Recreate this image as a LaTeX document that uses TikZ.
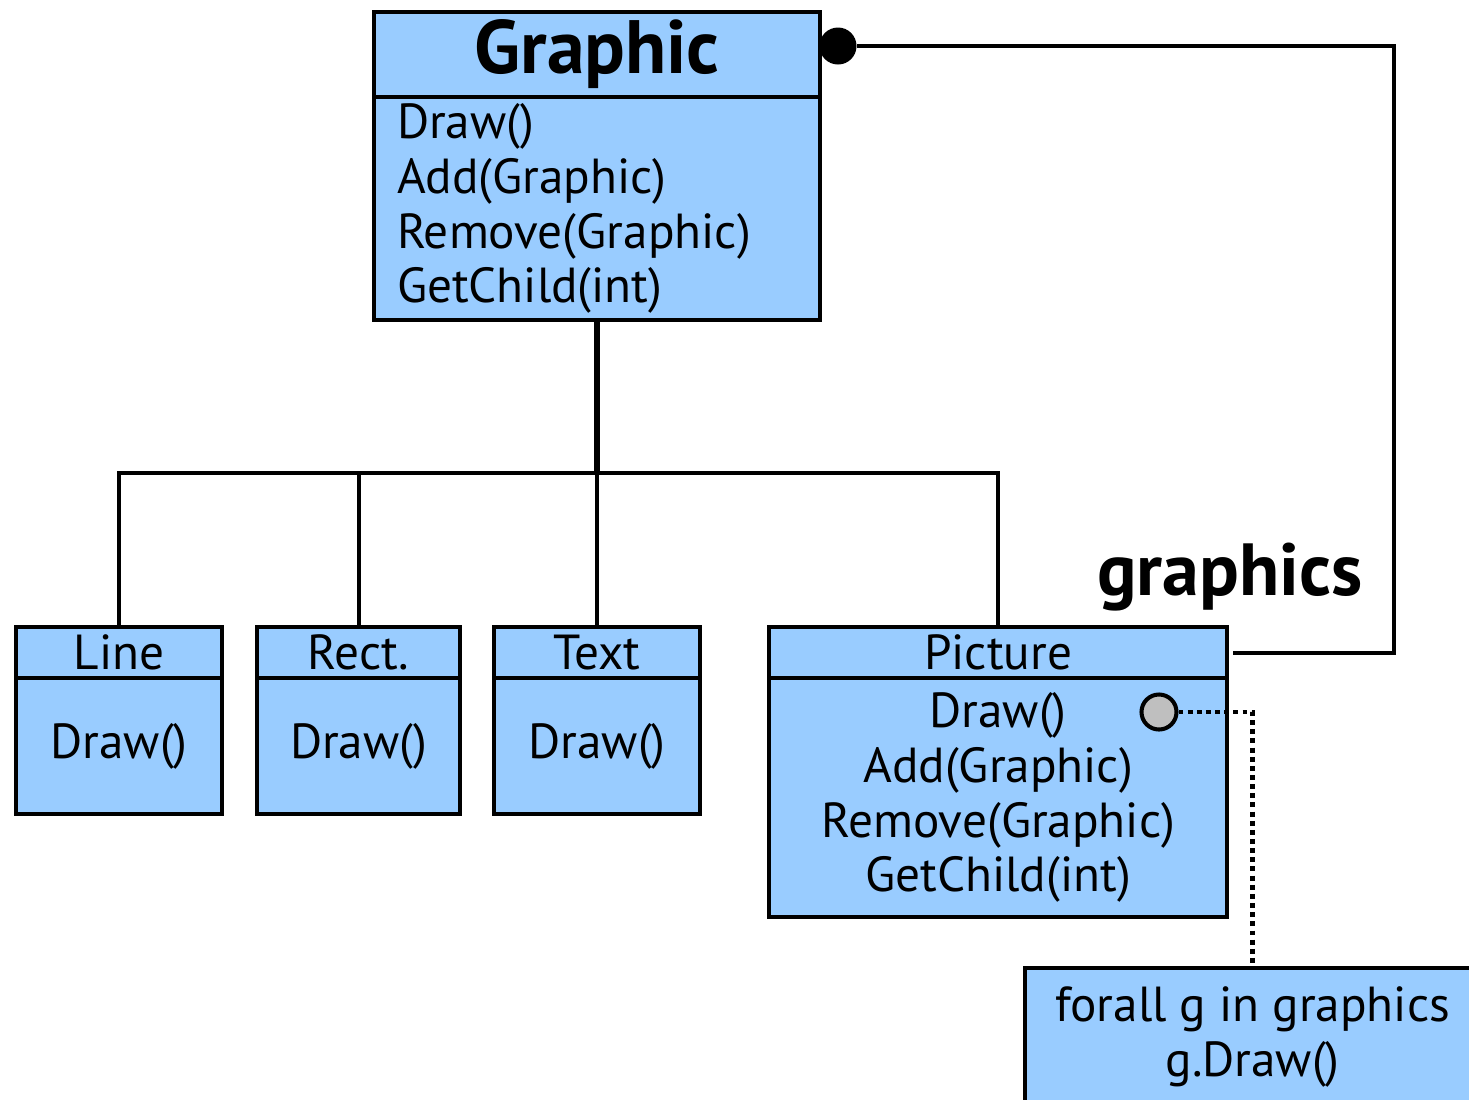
\documentclass[tikz,border=0pt]{standalone}
\usepackage{fontspec}
\setmainfont{PT Sans}
\definecolor{classblue}{RGB}{153,204,255}
\tikzset{
  classbox/.style={draw=black, fill=classblue, line width=1.15pt, inner sep=0pt, outer sep=0pt, anchor=north west, font=\fontsize{14}{15.6}\selectfont},
  link/.style={line width=1.15pt},
}

\begin{document}
\begin{tikzpicture}[x=0.01cm,y=-0.01cm]
\clip (0,0) rectangle (1469,1099);

% Graphic
\node[classbox, minimum width=4.46cm, minimum height=0.85cm, font=\fontsize{21.5}{24}\selectfont\bfseries] (graphichead) at (374,12) {Graphic};
\node[classbox, text width=4.0cm, inner xsep=0.23cm, minimum height=2.23cm, align=left] (graphicbody) at (374,97) {Draw()\\Add(Graphic)\\Remove(Graphic)\\GetChild(int)};

% leaves
\foreach \name/\title/\x/\w in {line/Line/16/2.06, rect/Rect./257/2.03, text/Text/494/2.06}
{
    \node[classbox, minimum width=\w cm, minimum height=0.51cm] (\name head) at (\x,627) {\title};
    \node[classbox, minimum width=\w cm, minimum height=1.36cm] (\name body) at (\x,678) {Draw()};
}

% Picture
\node[classbox, minimum width=4.58cm, minimum height=0.51cm] (picturehead) at (769,627) {Picture};
\node[classbox, minimum width=4.58cm, minimum height=2.39cm, align=center] (picturebody) at (769,678) {Draw()\\Add(Graphic)\\Remove(Graphic)\\GetChild(int)};

\node[classbox, minimum width=4.55cm, minimum height=1.38cm, align=center] (note) at (1025,968) {forall g in graphics\\g.Draw()};

% inheritance tree
\coordinate (fork) at (graphicbody.south |- 0,473);
\draw[line width=1.7pt] (graphicbody.south) -- (fork);
\foreach \n in {linehead,recthead,texthead,picturehead}
    \draw[link] (fork) -| (\n.north);

% aggregation
\node[circle, fill=black, inner sep=0pt, minimum size=0.37cm] (graphicdot) at (838,46) {};
\draw[link] (graphicdot) -| ([xshift=1.67cm]picturehead.east) -- ([xshift=0.06cm]picturehead.east);
\node[font=\fontsize{21}{24}\selectfont\bfseries] (graphicslabel) at (1230,577) {graphics};

\node[circle, draw=black, fill=gray!50, line width=1.15pt, inner sep=0pt, minimum size=0.35cm] (drawdot) at (1159,712) {};
\draw[line width=1.4pt, dash pattern=on 1.4pt off 1.2pt] (drawdot.east) -| (note.north);

\end{tikzpicture}
\end{document}
